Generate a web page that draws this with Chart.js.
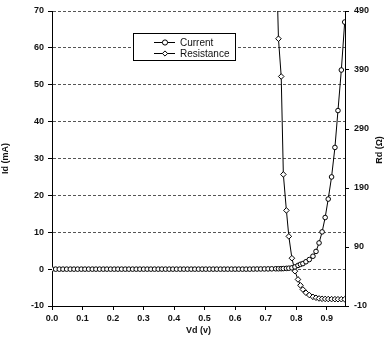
<!DOCTYPE html>
<html>
<head>
  <title>Diode Current and Resistance</title>
  <script src="https://cdn.jsdelivr.net/npm/chart.js@4.4.1/dist/chart.umd.min.js"></script>
  <style>body { margin: 0; background: #fff; }</style>
</head>
<body>
  <canvas id="myChart" width="389" height="344"></canvas>
  <script>
    // Diode voltage Vd (v), shared by both series
    var volts = [0.000, 0.012, 0.024, 0.036, 0.048, 0.060, 0.072, 0.084, 0.096, 0.108,
                 0.120, 0.132, 0.144, 0.156, 0.168, 0.180, 0.192, 0.204, 0.216, 0.228,
                 0.240, 0.252, 0.264, 0.276, 0.288, 0.300, 0.312, 0.324, 0.336, 0.348,
                 0.360, 0.372, 0.384, 0.396, 0.408, 0.420, 0.432, 0.444, 0.456, 0.468,
                 0.480, 0.492, 0.504, 0.516, 0.528, 0.540, 0.552, 0.564, 0.576, 0.588,
                 0.600, 0.612, 0.624, 0.636, 0.648, 0.660, 0.672, 0.684, 0.696, 0.708,
                 0.720, 0.733, 0.742, 0.751, 0.758, 0.768, 0.776, 0.786, 0.796, 0.806,
                 0.814, 0.822, 0.832, 0.843, 0.855, 0.865, 0.875, 0.885, 0.895, 0.905,
                 0.916, 0.927, 0.937, 0.948, 0.959];

    // Current Id (mA)
    var current = [0, 0, 0, 0, 0, 0, 0, 0, 0, 0,
                   0, 0, 0, 0, 0, 0, 0, 0, 0, 0,
                   0, 0, 0, 0, 0, 0, 0, 0, 0, 0,
                   0, 0, 0, 0, 0, 0, 0, 0, 0, 0,
                   0, 0, 0, 0, 0, 0, 0, 0, 0, 0,
                   0, 0, 0, 0, 0, 0.02, 0.03, 0.04, 0.05, 0.06,
                   0.08, 0.1, 0.1, 0.12, 0.15, 0.2, 0.25, 0.35, 0.6, 1.0,
                   1.3, 1.5, 2.0, 2.6, 3.5, 4.8, 7.1, 10.1, 14, 19,
                   25, 33, 43, 54, 67];

    // Resistance (ohm), only on the steep part of the sweep
    var resistance = [null, null, null, null, null, null, null, null, null, null,
                      null, null, null, null, null, null, null, null, null, null,
                      null, null, null, null, null, null, null, null, null, null,
                      null, null, null, null, null, null, null, null, null, null,
                      null, null, null, null, null, null, null, null, null, null,
                      null, null, null, null, null, null, null, null, null, null,
                      null, 620, 443, 379, 213, 152, 108, 71, 49, 35,
                      25, 18, 12.5, 8.6, 5.5, 4, 2.8, 2.2, 2, 1.8,
                      1.7, 1.6, 1.5, 1.5, 1.4];

    var yLeftTitle = 'Id (mA)';
    var yRightTitle = 'Rd (\u03A9)';
    var xTitle = 'Vd (v)';

    Chart.defaults.font.family = "'Liberation Sans', Arial, sans-serif";
    Chart.defaults.font.size = 9;
    Chart.defaults.font.weight = 'bold';
    Chart.defaults.color = '#111';

    function toPoints(ys) {
      return volts.map(function(v, i) { return { x: v, y: ys[i] }; });
    }

    // legend box inside the plot and the right axis title (read bottom-up)
    var extras = {
      id: 'extras',
      afterDraw: function(chart) {
        var c = chart.ctx;
        c.save();
        c.fillStyle = '#fff';
        c.fillRect(133, 33, 102, 27);
        c.strokeStyle = '#000';
        c.lineWidth = 1;
        c.strokeRect(133.5, 33.5, 102, 27);
        var rows = [['Current', 42, 'circle'], ['Resistance', 53, 'rectRot']];
        rows.forEach(function(r) {
          c.beginPath();
          c.moveTo(154, r[1] + 0.5);
          c.lineTo(175, r[1] + 0.5);
          c.strokeStyle = '#000';
          c.stroke();
          c.fillStyle = '#fff';
          Chart.helpers.drawPoint(c, { pointStyle: r[2], radius: 2.6, borderWidth: 1 }, 165, r[1] + 0.5);
          c.fillStyle = '#111';
          c.font = "10px 'Liberation Sans', Arial, sans-serif";
          c.textBaseline = 'middle';
          c.fillText(r[0], 180, r[1] + 1);
        });
        c.translate(380, 150);
        c.rotate(-Math.PI / 2);
        c.font = "bold 9px 'Liberation Sans', Arial, sans-serif";
        c.textAlign = 'center';
        c.textBaseline = 'middle';
        c.fillText(yRightTitle, 0, 0);
        c.restore();
      }
    };

    var ctx = document.getElementById('myChart').getContext('2d');
    var chart = new Chart(ctx, {
      type: 'scatter',
      data: {
        datasets: [{
          label: 'Current',
          data: toPoints(current),
          yAxisID: 'y',
          showLine: true,
          borderColor: '#000',
          borderWidth: 1,
          pointStyle: 'circle',
          pointRadius: 2.3,
          pointBorderWidth: 1,
          pointBorderColor: '#000',
          pointBackgroundColor: '#fff'
        }, {
          label: 'Resistance',
          data: toPoints(resistance),
          yAxisID: 'y2',
          showLine: true,
          borderColor: '#000',
          borderWidth: 1,
          pointStyle: 'rectRot',
          pointRadius: 2.8,
          pointBorderWidth: 1,
          pointBorderColor: '#000',
          pointBackgroundColor: '#fff'
        }]
      },
      options: {
        responsive: false,
        animation: false,
        layout: { padding: { top: 11, bottom: 8 } },
        plugins: { legend: { display: false }, tooltip: { enabled: false } },
        scales: {
          x: {
            type: 'linear',
            min: 0,
            max: 0.96,
            afterFit: function(s) { s.height = 30; },
            ticks: { stepSize: 0.1, includeBounds: false, padding: 3, maxRotation: 0,
                     callback: function(v) { return v.toFixed(1); } },
            grid: { drawOnChartArea: false, tickLength: 4, color: '#000' },
            border: { color: '#000', width: 1 },
            title: { display: true, text: xTitle, padding: 0, font: { size: 9, weight: 'bold' } }
          },
          y: {
            position: 'left',
            min: -10,
            max: 70,
            afterFit: function(s) { s.width = 52; },
            ticks: { stepSize: 10, padding: 4 },
            grid: { color: '#555', tickColor: '#000', tickLength: 4, lineWidth: 1 },
            border: { color: '#000', width: 1, dash: [3, 2] },
            title: { display: true, text: yLeftTitle, padding: 0, font: { size: 9, weight: 'bold' } }
          },
          y2: {
            position: 'right',
            min: -10,
            max: 490,
            afterFit: function(s) { s.width = 44; },
            ticks: { stepSize: 100, padding: 5 },
            grid: { drawOnChartArea: false, tickColor: '#000', tickLength: 4 },
            border: { color: '#000', width: 1 }
          }
        }
      },
      plugins: [extras]
    });
  </script>
</body>
</html>
